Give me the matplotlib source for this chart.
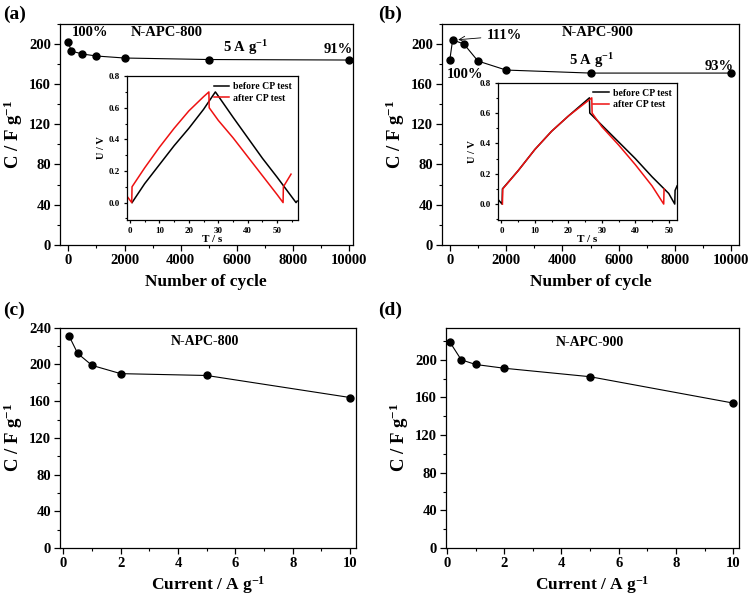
import matplotlib
matplotlib.use("Agg")
import matplotlib.pyplot as plt
from matplotlib.ticker import MultipleLocator

plt.rcParams['font.family'] = ['Liberation Serif', 'DejaVu Serif']
plt.rcParams['font.weight'] = 'bold'
plt.rcParams['axes.labelweight'] = 'bold'
plt.rcParams['mathtext.fontset'] = 'custom'
plt.rcParams['mathtext.rm'] = 'Liberation Serif:bold'
plt.rcParams['mathtext.bf'] = 'Liberation Serif:bold'
plt.rcParams['mathtext.default'] = 'rm'

# cycling data (a, b)
cycles = [0, 100, 500, 1000, 2000, 5000, 10000]
cap_800_cyc = [202, 193, 190, 188, 186, 184.5, 184]
cap_900_cyc = [184, 204, 200, 183, 174, 171, 171]

# rate data (c, d)
current_800 = [0.2, 0.5, 1, 2, 5, 10]
cap_800_rate = [231, 212, 199, 190, 188, 164]
current_900 = [0.1, 0.5, 1, 2, 5, 10]
cap_900_rate = [219, 200, 195, 191, 182, 154]

# inset GCD curves, N-APC-800
t_800_before = [0.7, 5, 10, 15, 20, 25, 29, 29.4, 35, 40, 45, 50, 56.4, 56.8]
u_800_before = [0.0, 0.12, 0.24, 0.36, 0.47, 0.59, 0.70, 0.69, 0.54, 0.41, 0.28, 0.16, 0.0, 0.01]
t_800_after = [-1, 0.6, 0.7, 5, 10, 15, 20, 25, 26.8, 26.9, 30, 35, 40, 45, 50, 52, 52.1, 54.7]
u_800_after = [0.04, 0.0, 0.10, 0.22, 0.35, 0.47, 0.58, 0.67, 0.70, 0.60, 0.52, 0.41, 0.29, 0.17, 0.05, 0.0, 0.10, 0.18]

# inset GCD curves, N-APC-900
t_900_before = [-1, 0.2, 0.3, 5, 10, 15, 20, 26.3, 26.4, 30, 35, 40, 45, 50, 51.8, 51.9, 52.5]
u_900_before = [0.03, 0.0, 0.10, 0.22, 0.36, 0.48, 0.58, 0.70, 0.60, 0.52, 0.41, 0.30, 0.18, 0.07, 0.0, 0.09, 0.12]
t_900_after = [0.3, 0.4, 5, 10, 15, 20, 27, 27.1, 30, 35, 40, 45, 48.5, 48.6]
u_900_after = [0.0, 0.10, 0.22, 0.36, 0.48, 0.58, 0.70, 0.60, 0.51, 0.39, 0.26, 0.12, 0.0, 0.10]

ylab = 'C / F g$^{-1}$'
curlab = 'Current / A g$^{-1}$'


def style(ax, xmaj, xmin, ymaj, ymin, size=10.5, length=4):
    ax.xaxis.set_major_locator(MultipleLocator(xmaj))
    ax.xaxis.set_minor_locator(MultipleLocator(xmin))
    ax.yaxis.set_major_locator(MultipleLocator(ymaj))
    ax.yaxis.set_minor_locator(MultipleLocator(ymin))
    ax.tick_params(which='major', direction='out', length=length, width=0.9,
                   labelsize=size, top=False, right=False, pad=2.5)
    ax.tick_params(which='minor', direction='out', length=length / 2, width=0.8,
                   top=False, right=False)
    for s in ax.spines.values():
        s.set_linewidth(0.9)


fig = plt.figure(figsize=(7.49, 5.97), dpi=100)

ax_a = fig.add_axes([0.080, 0.590, 0.391, 0.370])
ax_b = fig.add_axes([0.590, 0.590, 0.397, 0.370])
ax_c = fig.add_axes([0.080, 0.082, 0.395, 0.369])
ax_d = fig.add_axes([0.5955, 0.082, 0.391, 0.369])

mk = dict(color='black', marker='o', markersize=5, linewidth=0.8)

# (a)
ax_a.plot(cycles, cap_800_cyc, **mk)
ax_a.set_xlim(-300, 10130)
ax_a.set_ylim(0, 220)
style(ax_a, 2000, 1000, 40, 20)
ax_a.set_xlabel('Number of cycle', fontsize=12.5, labelpad=5)
ax_a.set_ylabel(ylab, fontsize=13.5, labelpad=3)
ax_a.text(130, 211, '100%', fontsize=10.5, va='center')
ax_a.text(3500, 211, 'N-APC-800', fontsize=10.5, ha='center', va='center')
ax_a.text(6300, 196, '5 A g$^{-1}$', fontsize=10.5, ha='center', va='center')
ax_a.text(9600, 194, '91%', fontsize=10.5, ha='center', va='center')

# (b)
ax_b.plot(cycles, cap_900_cyc, **mk)
ax_b.set_xlim(-280, 10280)
ax_b.set_ylim(0, 220)
style(ax_b, 2000, 1000, 40, 20)
ax_b.set_xlabel('Number of cycle', fontsize=12.5, labelpad=5)
ax_b.set_ylabel(ylab, fontsize=13.5, labelpad=3)
ax_b.annotate('111%', xy=(200, 204), xytext=(1300, 208), fontsize=10.5, va='center',
              arrowprops=dict(arrowstyle='->', color='black', lw=0.6))
ax_b.text(550, 170, '100%', fontsize=10.5, ha='center', va='center')
ax_b.text(5250, 211, 'N-APC-900', fontsize=10.5, ha='center', va='center')
ax_b.text(5050, 183, '5 A g$^{-1}$', fontsize=10.5, ha='center', va='center')
ax_b.text(9580, 178, '93%', fontsize=10.5, ha='center', va='center')

# (c)
ax_c.plot(current_800, cap_800_rate, **mk)
ax_c.set_xlim(-0.12, 10.2)
ax_c.set_ylim(0, 240)
style(ax_c, 2, 1, 40, 20)
ax_c.set_xlabel(curlab, fontsize=12.5, labelpad=3)
ax_c.set_ylabel(ylab, fontsize=13.5, labelpad=3)
ax_c.text(4.95, 225, 'N-APC-800', fontsize=10, ha='center', va='center')

# (d)
ax_d.plot(current_900, cap_900_rate, **mk)
ax_d.set_xlim(-0.03, 10.2)
ax_d.set_ylim(0, 234)
style(ax_d, 2, 1, 40, 20)
ax_d.set_xlabel(curlab, fontsize=12.5, labelpad=3)
ax_d.set_ylabel(ylab, fontsize=13.5, labelpad=3)
ax_d.text(5.0, 218, 'N-APC-900', fontsize=10, ha='center', va='center')

# insets
ins_a = fig.add_axes([0.1696, 0.6315, 0.228, 0.241])
ins_a.plot(t_800_before, u_800_before, color='black', lw=1.1, label='before CP test')
ins_a.plot(t_800_after, u_800_after, color='#ee1111', lw=1.1, label='after CP test')
ins_a.set_xlim(-1, 57)
ins_a.set_ylim(-0.11, 0.8)

ins_b = fig.add_axes([0.665, 0.6315, 0.239, 0.230])
ins_b.plot(t_900_before, u_900_before, color='black', lw=1.1, label='before CP test')
ins_b.plot(t_900_after, u_900_after, color='#ee1111', lw=1.1, label='after CP test')
ins_b.set_xlim(-1, 52.5)
ins_b.set_ylim(-0.105, 0.8)

for ins in (ins_a, ins_b):
    style(ins, 10, 5, 0.2, 0.1, size=6.5, length=2.5)
    ins.set_xlabel('T / s', fontsize=8, labelpad=0)
    ins.set_ylabel('U / V', fontsize=7.5, labelpad=2)
    ins.legend(loc='upper right', frameon=False, fontsize=7, handlelength=1.6,
               handletextpad=0.4, borderaxespad=0.2, labelspacing=0.3)

# panel labels
fig.text(0.004, 0.990, '(a)', fontsize=14, va='top')
fig.text(0.505, 0.990, '(b)', fontsize=14, va='top')
fig.text(0.004, 0.495, '(c)', fontsize=14, va='top')
fig.text(0.505, 0.495, '(d)', fontsize=14, va='top')

fig.savefig('out.png', dpi=100)
